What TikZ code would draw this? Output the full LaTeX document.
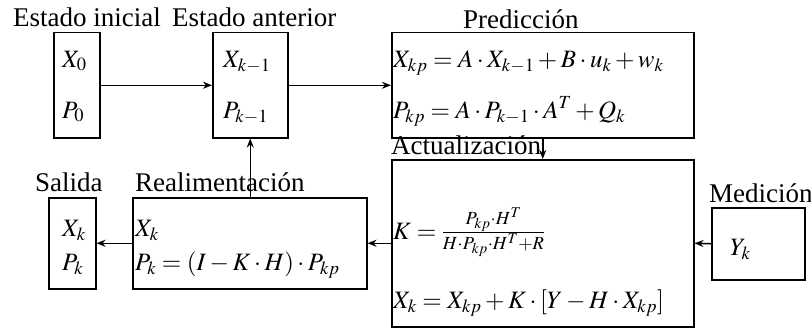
\documentclass[tikz,border=0pt]{standalone}
\usepackage{mathptmx}
\usepackage{fontspec}
\setmainfont{Liberation Serif}
\usetikzlibrary{arrows.meta}
\begin{document}
\begin{tikzpicture}[x=1pt,y=-1pt,
  box/.style={draw,line width=1.5pt,rectangle,inner sep=0pt,anchor=north west},
  lbl/.style={anchor=base west,inner sep=0pt,font=\fontsize{27}{32}\selectfont},
  mth/.style={anchor=base west,inner sep=0pt,font=\fontsize{25}{30}\selectfont},
  arr/.style={line width=1.5pt,-{Stealth[length=9pt,width=7pt]}}]
\useasboundingbox (0,0) rectangle (811,329);
% boxes
\node[box,minimum width=46pt,minimum height=105pt] (b1) at (53,32) {};
\node[box,minimum width=75pt,minimum height=105pt] (b2) at (212,32) {};
\node[box,minimum width=302pt,minimum height=105pt] (b3) at (391,32) {};
\node[box,minimum width=302pt,minimum height=167pt] (b4) at (391,159) {};
\node[box,minimum width=93pt,minimum height=72pt] (med) at (711,207) {};
\node[box,minimum width=234pt,minimum height=91pt] (real) at (132,197) {};
\node[box,minimum width=47pt,minimum height=91pt] (sal) at (48,197) {};
% titles
\node[lbl] (t1) at (13,27) {Estado inicial};
\node[lbl] (t2) at (172,27) {Estado anterior};
\node[lbl] (t3) at (463,29) {Predicción};
\node[lbl] (t4) at (391,154) {Actualización};
\node[lbl] (t5) at (709,202) {Medición};
\node[lbl] (t6) at (35,191) {Salida};
\node[lbl] (t7) at (135,191) {Realimentación};
% contents
\node[mth] (x0) at (62,67) {$X_0$};
\node[mth] (p0) at (62,118) {$P_0$};
\node[mth] (xk1) at (223,67) {$X_{k-1}$};
\node[mth] (pk1) at (223,118) {$P_{k-1}$};
\node[mth] (e1) at (393,67) {$X_{kp}=A\cdot X_{k-1}+B\cdot u_k+w_k$};
\node[mth] (e2) at (393,118) {$P_{kp}=A\cdot P_{k-1}\cdot A^T+Q_k$};
\node[mth] (e3) at (393,239) {$K=\frac{P_{kp}\cdot H^T}{H\cdot P_{kp}\cdot H^T+R}$};
\node[mth] (e4) at (393,308) {$X_k=X_{kp}+K\cdot[Y-H\cdot X_{kp}]$};
\node[mth] (yk) at (730,255) {$Y_k$};
\node[mth] (xs) at (62,236) {$X_k$};
\node[mth] (ps) at (62,270) {$P_k$};
\node[mth] (xr) at (135,236) {$X_k$};
\node[mth] (pr) at (135,270) {$P_k=(I-K\cdot H)\cdot P_{kp}$};
% connectors
\draw[arr] (b1.east) -- (b2.west);
\draw[arr] (b2.east) -- (b3.west);
\draw[arr] (b3.south) -- (b4.north);
\draw[arr] (med.west) -- (b4.east);
\draw[arr] (b4.west) -- (real.east);
\draw[arr] (real.west) -- (sal.east);
\draw[arr] (real.north -| b2.south) -- (b2.south);
\end{tikzpicture}
\end{document}
